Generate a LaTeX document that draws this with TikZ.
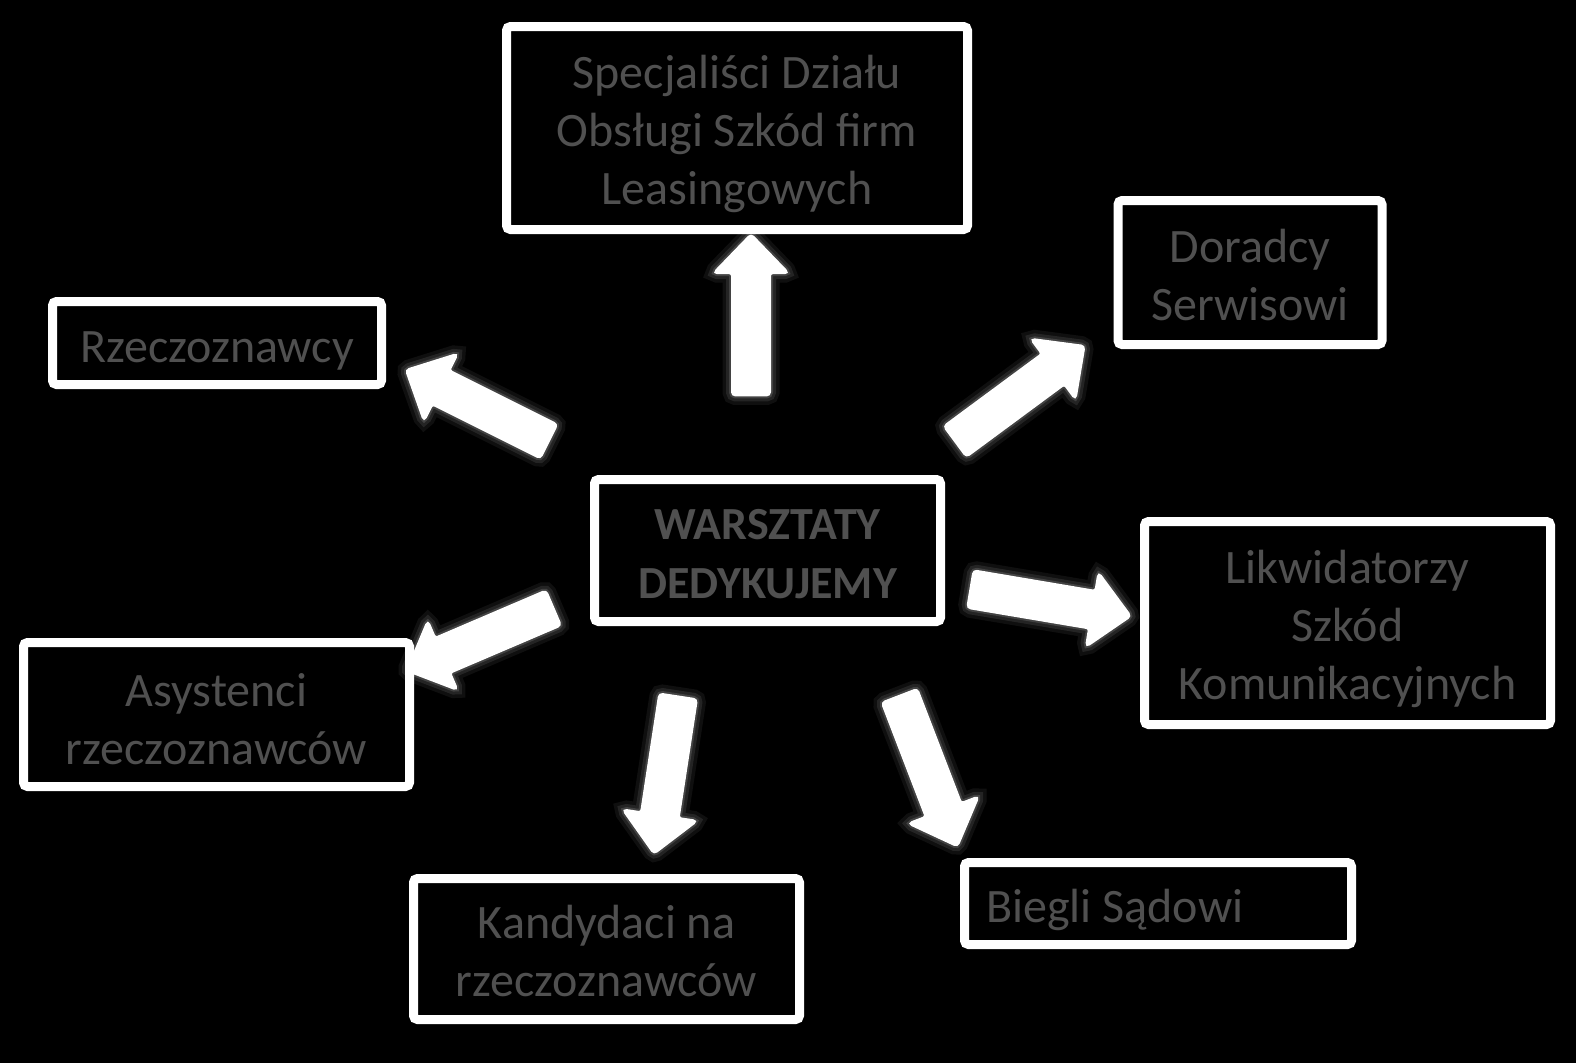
\documentclass[tikz,border=0pt]{standalone}
\usepackage{fontspec}
\setmainfont{Carlito}
\usetikzlibrary{shapes.arrows,calc}
\definecolor{txtgray}{RGB}{80,80,80}
\tikzset{
  box/.style={draw=white, line width=9pt, fill=black, rounded corners=4pt,
    inner sep=0pt},
  txt/.style={align=center, text=txtgray, inner sep=0pt,
    font=\fontsize{48}{58}\selectfont},
  barrow/.style={single arrow, fill=white, draw=white, line width=3pt,
    rounded corners=3pt, inner xsep=0pt, inner ysep=17pt,
    single arrow head extend=18pt, single arrow tip angle=88,
    preaction={draw=white, draw opacity=0.06, line width=20pt},
    preaction={draw=white, draw opacity=0.09, line width=13pt},
    preaction={draw=white, draw opacity=0.14, line width=7pt}},
}
\newcommand\blockarrow[2]{%
  \path let \p1=($(#2)-(#1)$), \n1={atan2(\y1,\x1)}, \n2={veclen(\x1,\y1)-7} in
    node[barrow, minimum height=\n2, rotate=\n1] at ($(#1)!0.5!(#2)$) {};}
\begin{document}
\begin{tikzpicture}[x=1pt,y=-1pt]
\fill[black] (0,0) rectangle (1576,1063);
\useasboundingbox (0,0) rectangle (1576,1063);

\node[box, minimum width=461pt, minimum height=203pt] (spec) at (737,128) {};
\node[txt] (spec-t) at ($(spec.center)+(0,6)$)
  {Specjaliści Działu\\Obsługi Szkód firm\\Leasingowych};
\node[box, minimum width=264pt, minimum height=144pt] (dor) at (1250,272.5) {};
\node[txt] (dor-t) at ($(dor.center)+(0,3)$) {Doradcy\\Serwisowi};
\node[box, minimum width=329pt, minimum height=83pt] (rzecz) at (217,343) {};
\node[txt] (rzecz-t) at ($(rzecz.center)+(0,8)$) {Rzeczoznawcy};
\node[box, minimum width=346pt, minimum height=142pt] (warsz) at (767.5,550.5) {};
\node[txt, font=\fontsize{46}{59}\selectfont\bfseries] (warsz-t) at ($(warsz.center)+(0,3.5)$)
  {WARSZTATY\\DEDYKUJEMY};
\node[box, minimum width=406pt, minimum height=203pt] (likw) at (1347.5,623) {};
\node[txt] (likw-t) at ($(likw.center)+(0,6)$) {Likwidatorzy\\Szkód\\Komunikacyjnych};
\node[box, minimum width=386pt, minimum height=144pt] (asys) at (216.5,714.5) {};
\node[txt] (asys-t) at ($(asys.center)+(0,5)$) {Asystenci\\rzeczoznawców};
\node[box, minimum width=386pt, minimum height=141pt] (kand) at (606.5,949) {};
\node[txt] (kand-t) at ($(kand.center)+(0,1.5)$) {Kandydaci na\\rzeczoznawców};
\node[box, minimum width=387pt, minimum height=82pt] (bieg) at (1158,903.5) {};
\node[txt, anchor=west] (bieg-t) at ($(bieg.west)+(26,6)$) {Biegli Sądowi};

\coordinate (t1) at (751,408); \coordinate (h1) at (751,241);
\coordinate (t2) at (560,447); \coordinate (h2) at (412,373);
\coordinate (t3) at (945,449); \coordinate (h3) at (1079,350);
\coordinate (t4) at (958,587); \coordinate (h4) at (1124,615);
\coordinate (t5) at (565,603); \coordinate (h5) at (413,668);
\coordinate (t6) at (680,684); \coordinate (h6) at (655,847);
\coordinate (t7) at (895,684); \coordinate (h7) at (955,840);

\blockarrow{t1}{h1}
\blockarrow{t2}{h2}
\blockarrow{t3}{h3}
\blockarrow{t4}{h4}
\blockarrow{t5}{h5}
\blockarrow{t6}{h6}
\blockarrow{t7}{h7}
\end{tikzpicture}
\end{document}
